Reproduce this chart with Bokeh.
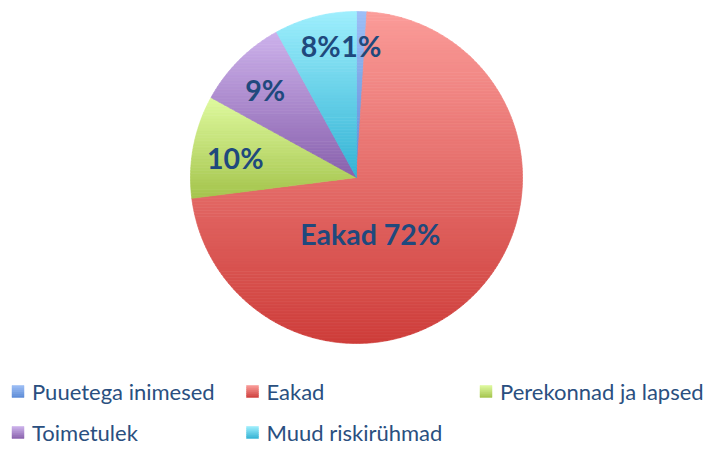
import math
from bokeh.plotting import figure
from bokeh.models import Range1d, ColumnDataSource
from bokeh.core.properties import value
from bokeh.embed import file_html
from bokeh.resources import INLINE

# ---------------- data ----------------
categories = ["Puuetega inimesed", "Eakad", "Perekonnad ja lapsed", "Toimetulek", "Muud riskirühmad"]
shares = [1, 72, 10, 9, 8]
label_names = ["", "Eakad", "", "", ""]
colors_top = ["#9DBEF6", "#FB9C99", "#DFFA9F", "#CDB2EC", "#9EEFFD"]
colors_bottom = ["#5A8AD6", "#CE3D3A", "#A4C44C", "#8860AC", "#32B2D4"]

# ---------------- layout ----------------
W, H = 711, 448
CX, CY, R = 356, 271, 166
START_DEG = 90.0
label_angle = [87.9, -76.3, 170.7, 136.4, 105.3]
label_rfrac = [0.79, 0.35, 0.74, 0.76, 0.82]
legend_col_x = [17.5, 252, 485.5]
legend_row_y = [57, 16]
SQ = 12
TEXT_COLOR = "#1F497D"
LEGEND_COLOR = "#2A4F80"
FONT = "Lato"


def hex2rgb(h):
    h = h.lstrip("#")
    return tuple(int(h[i:i + 2], 16) for i in (0, 2, 4))


def mix(c1, c2, t):
    a, b = hex2rgb(c1), hex2rgb(c2)
    return "#%02x%02x%02x" % tuple(int(round(a[i] + (b[i] - a[i]) * t)) for i in range(3))


def clip(poly, y0, keep_above):
    out = []
    n = len(poly)
    for i in range(n):
        a = poly[i]
        b = poly[(i + 1) % n]
        ina = a[1] >= y0 if keep_above else a[1] <= y0
        inb = b[1] >= y0 if keep_above else b[1] <= y0
        if ina:
            out.append(a)
        if ina != inb:
            t = (y0 - a[1]) / (b[1] - a[1])
            out.append((a[0] + t * (b[0] - a[0]), y0))
    return out


p = figure(width=W, height=H, output_backend="svg", toolbar_location=None,
           x_range=Range1d(0, W), y_range=Range1d(0, H), min_border=0)
p.axis.visible = False
p.grid.visible = False
p.outline_line_color = None
p.background_fill_color = "white"
p.border_fill_color = "white"

total = float(sum(shares))
xs, ys, fills = [], [], []
label_x, label_y, label_text = [], [], []
ang = START_DEG
for i, v in enumerate(shares):
    span = v / total * 360.0
    a0, a1 = ang, ang - span
    ang = a1
    npts = max(6, int(span * 2))
    poly = [(CX, CY)]
    for k in range(npts + 1):
        t = math.radians(a0 + (a1 - a0) * k / npts)
        poly.append((CX + R * math.cos(t), CY + R * math.sin(t)))
    ymin = min(q[1] for q in poly)
    ymax = max(q[1] for q in poly)
    nb = max(8, int((ymax - ymin) / 3))
    for b in range(nb):
        yb0 = ymax - (ymax - ymin) * (b + 1) / nb
        yb1 = ymax - (ymax - ymin) * b / nb
        part = clip(clip(poly, yb0, True), yb1, False)
        if len(part) < 3:
            continue
        xs.append([q[0] for q in part])
        ys.append([q[1] for q in part])
        fills.append(mix(colors_top[i], colors_bottom[i], (b + 0.5) / nb))
    la = math.radians(label_angle[i])
    label_x.append(CX + label_rfrac[i] * R * math.cos(la))
    label_y.append(CY + label_rfrac[i] * R * math.sin(la))
    label_text.append((label_names[i] + " " if label_names[i] else "") + "%d%%" % v)

src = ColumnDataSource(dict(xs=xs, ys=ys, fill=fills))
p.patches("xs", "ys", source=src, fill_color="fill", line_color="fill", line_width=0.7)

p.text(x=label_x, y=label_y, text=label_text, text_font=value(FONT),
       text_font_size=value("28.5px"), text_font_style="bold", text_color=TEXT_COLOR,
       text_align="center", text_baseline="middle")

# legend
qt, qb, ql, qr, qc = [], [], [], [], []
lx, ly, lt = [], [], []
for i, name in enumerate(categories):
    col = i % 3
    row = i // 3
    cx = legend_col_x[col]
    cy = legend_row_y[row]
    nb = 6
    for b in range(nb):
        top = cy + SQ / 2 - SQ * b / nb
        bot = cy + SQ / 2 - SQ * (b + 1) / nb
        qt.append(top)
        qb.append(bot)
        ql.append(cx - SQ / 2)
        qr.append(cx + SQ / 2)
        qc.append(mix(colors_top[i], colors_bottom[i], (b + 0.5) / nb))
    lx.append(cx + SQ / 2 + 8)
    ly.append(cy)
    lt.append(name)

p.quad(top=qt, bottom=qb, left=ql, right=qr, fill_color=qc, line_color=qc, line_width=0.5)
p.text(x=lx, y=ly, text=lt, text_font=value(FONT), text_font_size=value("22px"),
       text_color=LEGEND_COLOR, text_align="left", text_baseline="middle")

open("out.html", "w").write(file_html(p, INLINE))
